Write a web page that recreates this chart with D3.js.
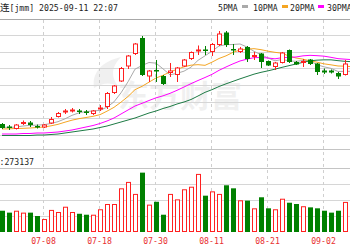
<!DOCTYPE html>
<html>
<head>
<meta charset="utf-8">
<script src="https://cdn.jsdelivr.net/npm/d3@7"></script>
<style>
  body { margin: 0; background: #fff; overflow: hidden; }
  svg { display: block; }
  text { font-family: "DejaVu Sans Mono", monospace; font-size: 8.2px; }
</style>
</head>
<body>
<svg id="chart" width="350" height="250"></svg>
<script>
// ---------------- DATA (bar 0 = 06-30) ----------------
const open  = [766,751,736,769,775,754,745,769,808,838,847,847,841,826,859,868,952,1021,1111,1186,1282,1051,1090,1054,1072,1060,1111,1156,1204,1213,1198,1240,1315,1216,1198,1228,1171,1189,1144,1108,1132,1210,1138,1135,1153,1129,1087,1087,1072,1060,1132];
const high  = [772,760,766,787,784,763,766,808,838,856,862,856,850,850,880,958,1000,1108,1180,1252,1294,1090,1150,1060,1132,1108,1156,1201,1237,1234,1252,1324,1324,1246,1228,1234,1198,1192,1147,1138,1198,1213,1144,1156,1156,1132,1099,1093,1078,1150,1138];
const low   = [736,730,733,760,748,739,742,766,805,826,835,826,820,820,844,856,946,1018,1096,1180,1054,1018,1018,1000,1048,1018,1108,1150,1180,1180,1174,1234,1228,1180,1192,1138,1150,1102,1114,1090,1129,1132,1120,1108,1120,1060,1066,1069,1036,1057,1072];
const close = [742,745,763,778,760,748,763,796,832,847,853,838,835,847,865,952,997,1102,1177,1249,1060,1087,1081,1006,1087,1105,1153,1198,1213,1204,1246,1309,1240,1207,1219,1156,1180,1138,1117,1135,1195,1138,1123,1144,1126,1078,1075,1075,1051,1129,1078];

const ma5  = [748,745,748,754,758,759,762,769,780,797,818,833,841,844,848,867,899,953,1019,1095,1117,1135,1131,1097,1061,1070,1083,1107,1148,1175,1203,1234,1242,1243,1246,1228,1202,1182,1162,1145,1153,1145,1142,1147,1145,1122,1109,1100,1081,1082,1082];
const ma10 = [736,737,739,740,742,745,748,755,764,777,789,798,805,812,822,843,866,897,931,972,992,1017,1042,1058,1078,1094,1109,1119,1122,1118,1137,1159,1175,1196,1210,1215,1218,1212,1203,1196,1191,1173,1162,1155,1145,1137,1127,1121,1114,1113,1110];
const ma20 = [706,706,706,709,709,712,712,715,718,724,730,739,748,757,769,784,802,826,850,874,890,907,923,935,950,968,988,1008,1027,1045,1064,1088,1108,1127,1144,1155,1164,1165,1162,1157,1164,1166,1168,1175,1178,1176,1173,1166,1158,1155,1152];
const ma30 = [697,697,697,697,697,700,700,703,706,712,718,724,730,736,745,754,766,778,790,802,817,832,844,859,871,886,898,913,934,956,972,991,1007,1022,1037,1051,1065,1076,1085,1095,1106,1116,1126,1136,1145,1149,1151,1151,1146,1142,1140];

// volume, thousands of lots
const vol = [133,121,133,121,121,100,81,138,125,158,125,114,108,108,142,175,175,273,313,238,371,171,189,108,238,204,267,283,363,227,254,238,292,273,198,196,148,217,148,142,208,183,175,161,154,148,133,121,133,188,154];

const tickIdx    = [-2, 6, 14, 22, 30, 38, 46];
const tickLabels = ["06-26", "07-08", "07-18", "07-30", "08-11", "08-21", "09-02"];
const priceGrid  = [700, 800, 900, 1000, 1100, 1200, 1300];
const volGrid    = [100, 200, 300];

const maNames  = ["5PMA", "10PMA", "20PMA", "30PMA"];
const maColors = ["#aaaaaa", "#f5a623", "#ff00ff", "#1e7b45"];

// ---------------- SCALES ----------------
const W = 350;
const RED = "#ff2020", GREEN = "#008000";

const x  = d3.scaleLinear().domain([0, 50]).range([2, 352]);
const y  = d3.scaleLinear().domain([600, 1400]).range([151.67, 18.33]);
const yv = d3.scaleLinear().domain([0, 400]).range([232, 168]);

const svg = d3.select("#chart");
const crisp = v => Math.round(v) + 0.5;

// watermark
const wm = svg.append("g").attr("fill", "#000").attr("opacity", 0.055);
wm.append("path").attr("d", "M94,88 C92,74 100,62 121,57 C112,66 110,76 118,86 C110,82 102,83 94,88 Z");
wm.append("text").attr("x", 118).attr("y", 107)
  .style("font-family", "'Noto Sans CJK SC', sans-serif").style("font-size", "31px")
  .style("font-weight", "bold").text("东方财富");

// horizontal grid
const grid = svg.append("g").attr("stroke", "#d6d6d6").attr("stroke-width", 1);
priceGrid.forEach(p => grid.append("line").attr("x1", 0).attr("x2", W).attr("y1", crisp(y(p))).attr("y2", crisp(y(p))));
volGrid.forEach(v => grid.append("line").attr("x1", 0).attr("x2", W).attr("y1", crisp(yv(v))).attr("y2", crisp(yv(v))));
[149, 168].forEach(v => grid.append("line").attr("x1", 0).attr("x2", W).attr("y1", v + 0.5).attr("y2", v + 0.5).attr("stroke", "#c4c4c4"));
svg.append("line").attr("x1", 0).attr("x2", W).attr("y1", 19.5).attr("y2", 19.5).attr("stroke", "#a8a8a8");

// vertical dashed grid
tickIdx.forEach(i => {
  svg.append("line")
    .attr("x1", Math.round(x(i)) - 0.5).attr("x2", Math.round(x(i)) - 0.5)
    .attr("y1", 20).attr("y2", 232)
    .attr("stroke", "#cfcfcf").attr("stroke-dasharray", "3,3");
});

// moving averages
const mas = [ma5, ma10, ma20, ma30];
const line = d3.line().x((d, i) => x(i)).y(d => y(d));
mas.forEach((m, k) => {
  svg.append("path").datum(m)
    .attr("fill", "none").attr("stroke", maColors[k]).attr("stroke-width", 1)
    .attr("d", line);
});

// candles
const idx = d3.range(close.length);
const up = i => close[i] >= open[i];
const candles = svg.append("g");
idx.forEach(i => {
  const cx = Math.round(x(i));
  const col = up(i) ? RED : GREEN;
  candles.append("line")
    .attr("x1", cx + 0.5).attr("x2", cx + 0.5)
    .attr("y1", y(high[i])).attr("y2", y(low[i]))
    .attr("stroke", col);
  const top = y(Math.max(open[i], close[i]));
  const bot = y(Math.min(open[i], close[i]));
  if (up(i)) {
    candles.append("rect")
      .attr("x", cx - 1.5).attr("y", top + 0.5)
      .attr("width", 4).attr("height", Math.max(bot - top - 1, 1))
      .attr("fill", "#fff").attr("stroke", col);
  } else {
    candles.append("rect")
      .attr("x", cx - 2).attr("y", top)
      .attr("width", 5).attr("height", Math.max(bot - top, 1.5))
      .attr("fill", col);
  }
});

// volume bars
const vbars = svg.append("g");
idx.forEach(i => {
  const cx = Math.round(x(i));
  const top = yv(vol[i]), bot = yv(0);
  if (up(i)) {
    vbars.append("rect")
      .attr("x", cx - 1.5).attr("y", top + 0.5)
      .attr("width", 4).attr("height", bot - top - 1)
      .attr("fill", "#fff").attr("stroke", RED);
  } else {
    vbars.append("rect")
      .attr("x", cx - 2).attr("y", top)
      .attr("width", 5).attr("height", bot - top)
      .attr("fill", GREEN);
  }
});

// date labels
tickIdx.forEach((i, k) => {
  svg.append("text")
    .attr("x", Math.round(x(i)) - 0.5).attr("y", 244)
    .attr("text-anchor", "middle").attr("fill", "#e83030")
    .text(tickLabels[k]);
});

// title + legend
svg.append("text").attr("x", 9.5).attr("y", 10.5).attr("fill", "#222")
  .text("[jmm] 2025-09-11 22:07");
svg.append("text").attr("x", 9.5).attr("y", 10.5).attr("fill", "#222")
  .attr("text-anchor", "end").style("font-family", "'Noto Sans CJK SC', sans-serif")
  .style("font-size", "9.5px").text("焦煤主连");

const legendX = [218, 253, 290, 327];
const swatchX = [242, 282, 318, 355];
maNames.forEach((n, k) => {
  svg.append("text").attr("x", legendX[k]).attr("y", 10.5).attr("fill", "#222").text(n);
  svg.append("rect").attr("x", swatchX[k]).attr("y", 5).attr("width", 6).attr("height", 3)
    .attr("fill", maColors[k]);
});

// volume label
svg.append("text").attr("x", -0.5).attr("y", 164.5).attr("fill", "#222").text(":273137");
</script>
</body>
</html>
